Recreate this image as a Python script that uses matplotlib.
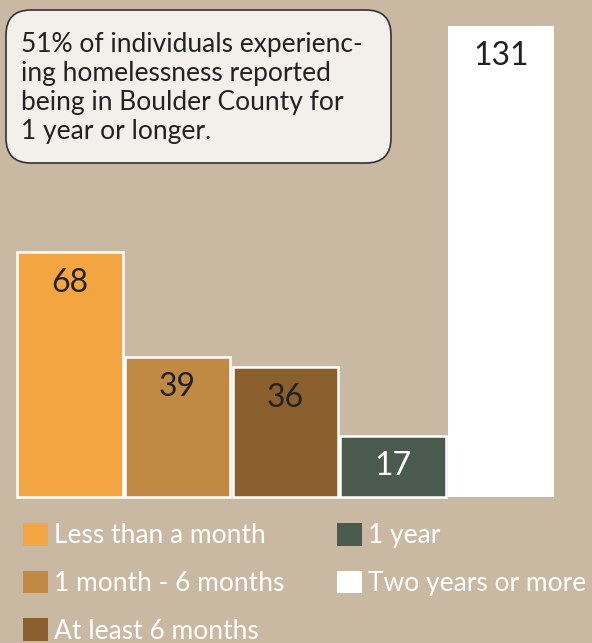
import matplotlib.pyplot as plt
from matplotlib.patches import Patch, FancyBboxPatch

categories = ["Less than a month", "1 month - 6 months", "At least 6 months",
              "1 year", "Two years or more"]
counts = [68, 39, 36, 17, 131]
colors = ["#f2a541", "#c08a45", "#8b5e2d", "#4a5a4f", "#ffffff"]
label_colors = ["#222222", "#222222", "#222222", "#ffffff", "#222222"]
note = ("51% of individuals experienc-\n"
        "ing homelessness reported\n"
        "being in Boulder County for\n"
        "1 year or longer.")

bg = "#c9b8a2"
plt.rcParams['font.family'] = ['Lato', 'DejaVu Sans']

fig = plt.figure(figsize=(5.92, 6.43), dpi=100, facecolor=bg)
ax = fig.add_axes([0, 0, 1, 1])
ax.set_facecolor(bg)

x = list(range(len(counts)))
bars = ax.bar(x, counts, width=0.98, color=colors, edgecolor="white", linewidth=1.8)
bars[-1].set_linewidth(0)

for i, (b, v) in enumerate(zip(bars, counts)):
    ax.annotate(str(v), (b.get_x() + b.get_width() / 2, v), xytext=(0, -22),
                textcoords="offset points", ha="center", va="center",
                fontsize=23, color=label_colors[i])

# map data to pixel layout of the original
ax.set_xlim(-0.648, 4.846)
ax.set_ylim(-40.6, 138.1)
ax.axis("off")

box = FancyBboxPatch((0.06, 4.80), 3.85, 1.53,
                     boxstyle="round,pad=0,rounding_size=0.25",
                     transform=fig.dpi_scale_trans, facecolor="#f3f0ec",
                     edgecolor="#333333", linewidth=1.2)
fig.patches.append(box)
fig.text(21 / 592, 1 - 32 / 643, note, ha="left", va="top", fontsize=19,
         color="#222222", linespacing=1.2)

handles = [Patch(facecolor=c, edgecolor="none") for c in colors]
leg = ax.legend(handles, categories, ncol=2, loc="upper left",
                bbox_to_anchor=(23 / 592, 1 - 523 / 643),
                bbox_transform=fig.transFigure, frameon=False,
                fontsize=19, labelcolor="white", handlelength=0.95,
                handleheight=0.95, handletextpad=0.23, labelspacing=0.84,
                columnspacing=1.97, borderaxespad=0, borderpad=0)

fig.savefig("out.png", dpi=100, facecolor=bg)
